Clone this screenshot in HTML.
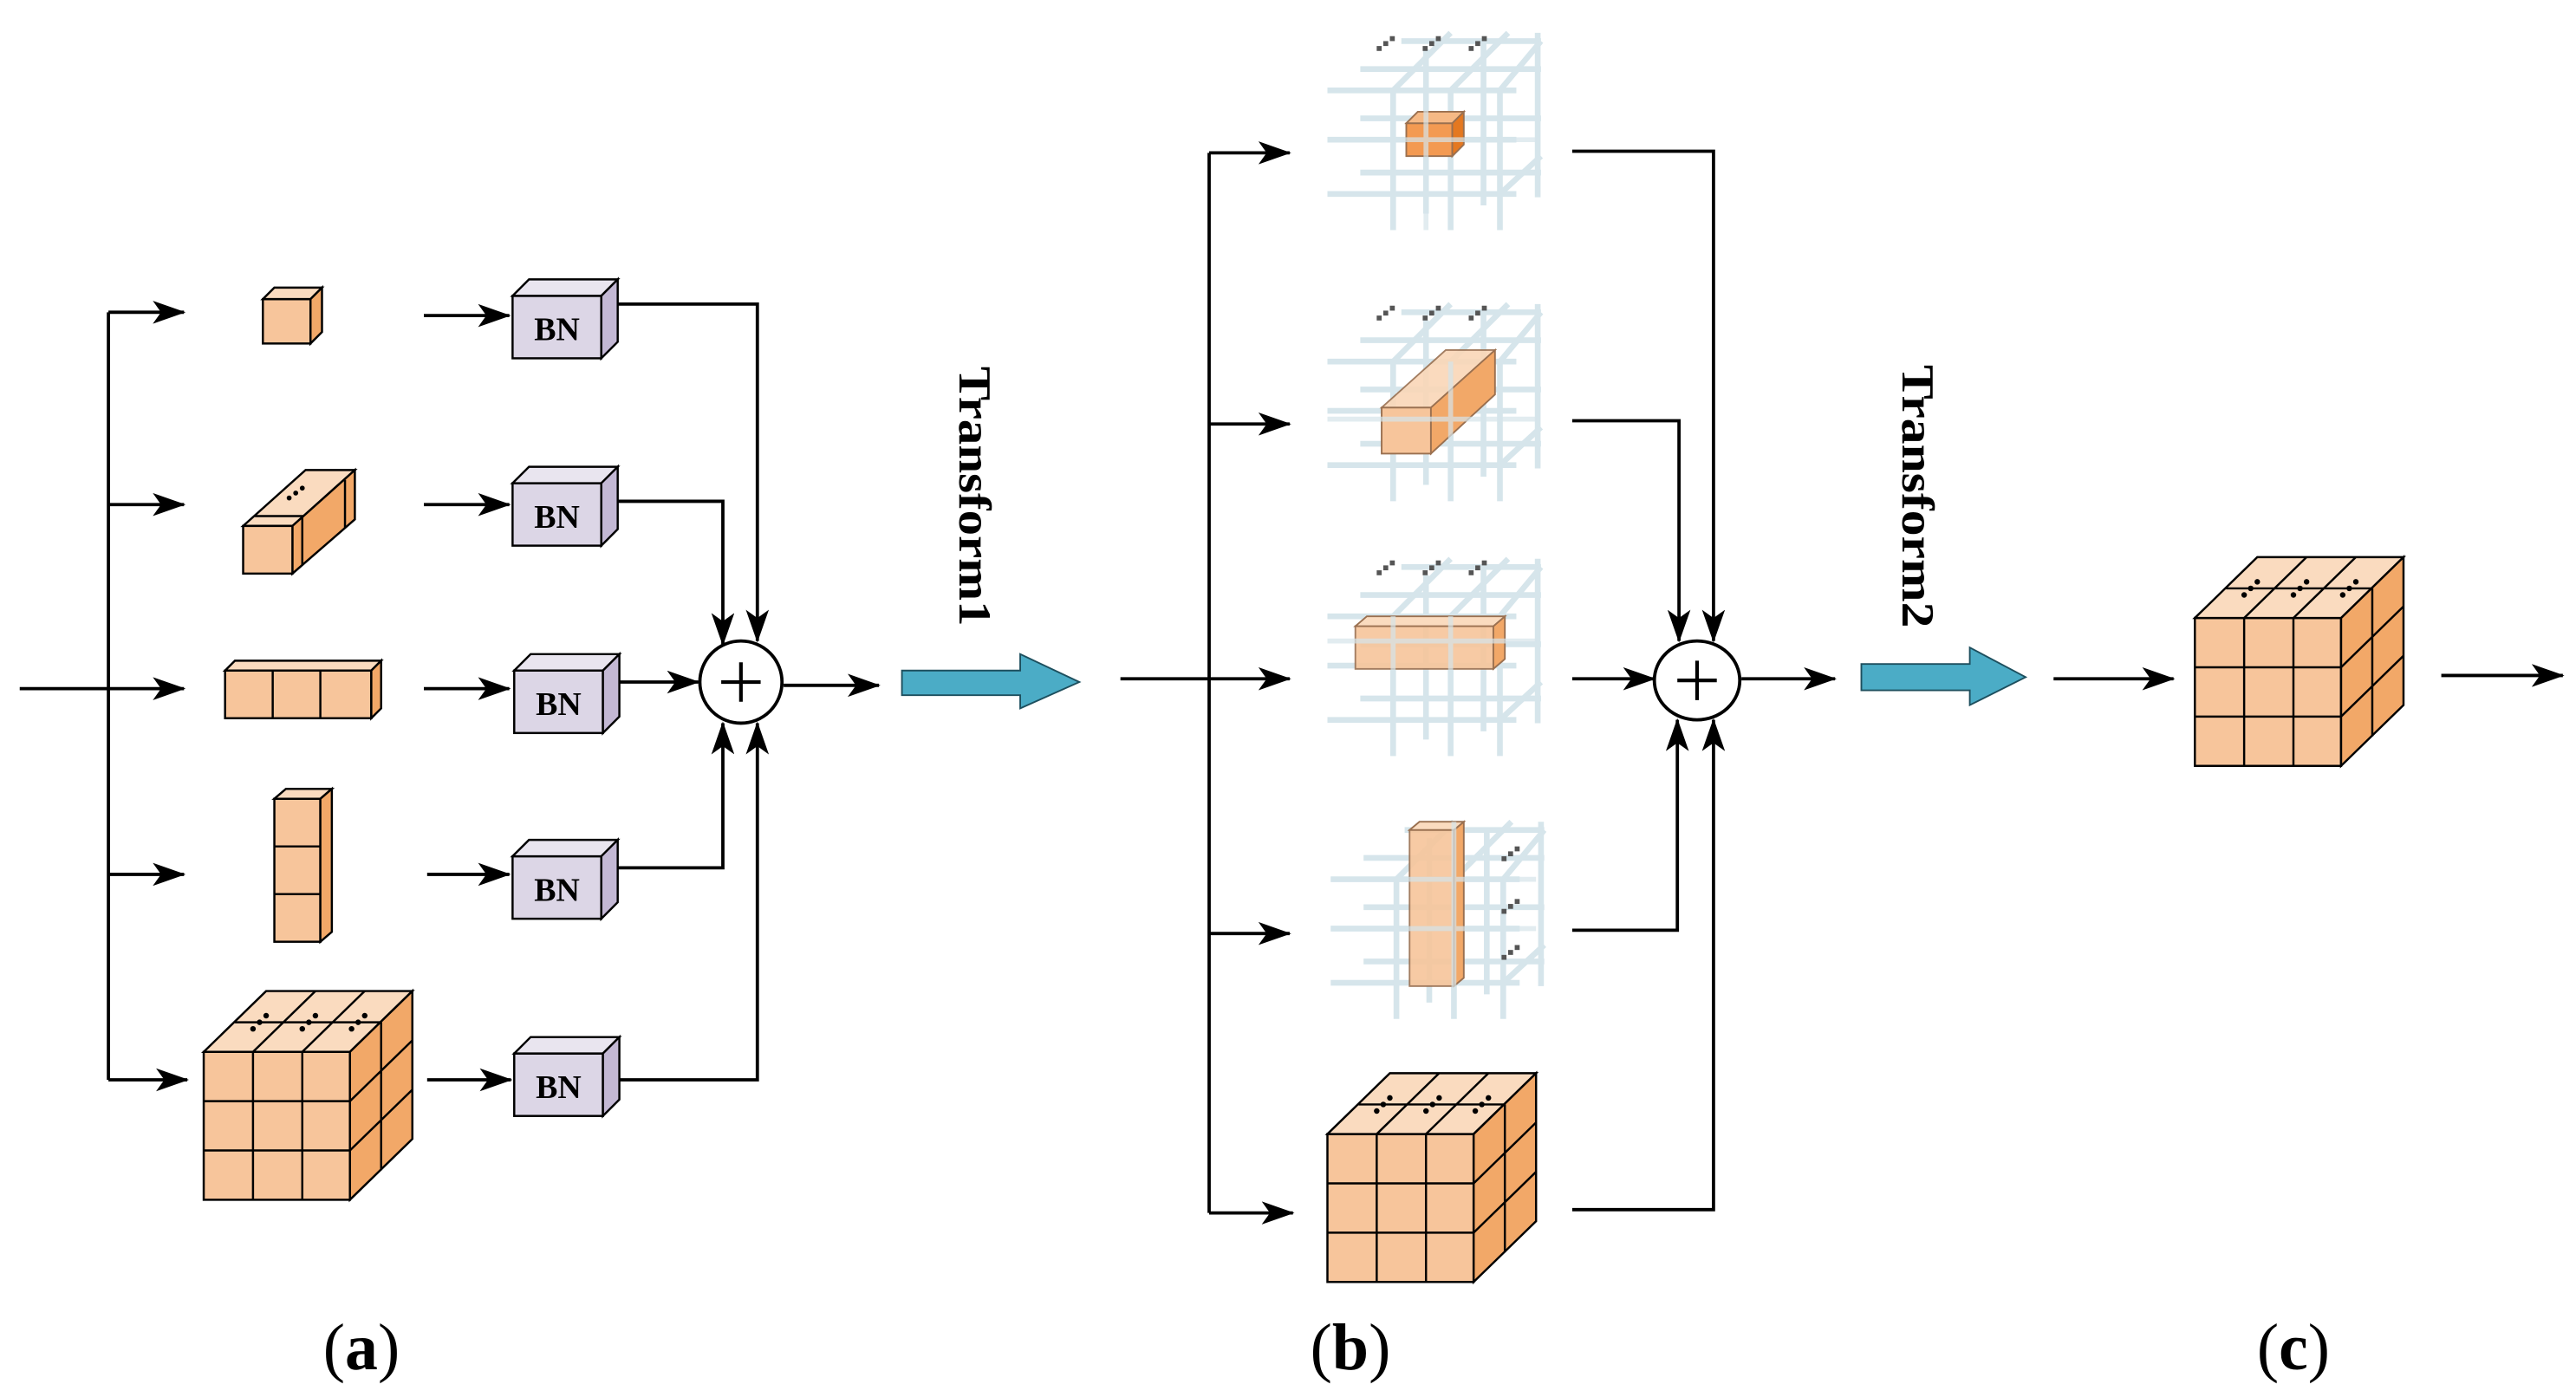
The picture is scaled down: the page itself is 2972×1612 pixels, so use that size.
<!DOCTYPE html>
<html><head><meta charset="utf-8"><style>html,body{margin:0;padding:0;background:#fff}svg{display:block}</style></head>
<body>
<svg width="2972" height="1612" viewBox="0 0 1568 850" preserveAspectRatio="none" xmlns="http://www.w3.org/2000/svg">
<defs>
<marker id="ah" viewBox="0 0 20 14" refX="19" refY="7" markerWidth="20" markerHeight="14" markerUnits="userSpaceOnUse" orient="auto">
<path d="M0,0 L20,7 L0,14 L5,7 Z" fill="#000"/></marker>
<g id="big" stroke="#000" stroke-width="1.3">
<rect x="0" y="0" width="89" height="90" fill="#f7c59b"/>
<line x1="30" y1="0" x2="30" y2="90"/><line x1="60" y1="0" x2="60" y2="90"/>
<line x1="0" y1="30" x2="89" y2="30"/><line x1="0" y1="60" x2="89" y2="60"/>
<polygon points="0,0 89,0 127,-37 38,-37" fill="#fadbbf"/>
<line x1="30" y1="0" x2="68" y2="-37"/><line x1="60" y1="0" x2="98" y2="-37"/><line x1="19" y1="-18" x2="108" y2="-18"/>
<polygon points="89,0 127,-37 127,53 89,90" fill="#f2a868"/>
<line x1="89" y1="30" x2="127" y2="-7"/><line x1="89" y1="60" x2="127" y2="23"/><line x1="108" y1="-18" x2="108" y2="72"/>
<g fill="#000" stroke="none"><circle cx="30" cy="-14" r="1.7"/><circle cx="34" cy="-18" r="1.7"/><circle cx="38" cy="-22" r="1.7"/>
<circle cx="60" cy="-14" r="1.7"/><circle cx="64" cy="-18" r="1.7"/><circle cx="68" cy="-22" r="1.7"/>
<circle cx="90" cy="-14" r="1.7"/><circle cx="94" cy="-18" r="1.7"/><circle cx="98" cy="-22" r="1.7"/></g>
</g>
<g id="bn" stroke="#000" stroke-width="1.3">
<rect x="0" y="0" width="54" height="38" fill="#dcd6e6"/>
<polygon points="0,0 54,0 64,-10 10,-10" fill="#e9e5ef"/>
<polygon points="54,0 64,-10 64,28 54,38" fill="#c3b8d4"/>
<text x="27" y="27" font-family="Liberation Serif, serif" font-weight="bold" font-size="20" text-anchor="middle" stroke="none" fill="#000">BN</text>
</g>
<g id="grid" stroke="#d6e5eb" stroke-width="3.5" fill="none">
<line x1="0" y1="45" x2="115" y2="45"/><line x1="0" y1="75" x2="115" y2="75"/><line x1="0" y1="108" x2="115" y2="108"/>
<line x1="20" y1="32" x2="130" y2="32"/><line x1="20" y1="62" x2="130" y2="62"/><line x1="20" y1="95" x2="130" y2="95"/>
<line x1="45" y1="15" x2="130" y2="15"/>
<line x1="40" y1="45" x2="40" y2="130"/><line x1="75" y1="45" x2="75" y2="130"/><line x1="105" y1="45" x2="105" y2="130"/>
<line x1="60" y1="20" x2="60" y2="120"/><line x1="95" y1="15" x2="95" y2="115"/><line x1="128" y1="10" x2="128" y2="110"/>
<line x1="40" y1="45" x2="75" y2="10"/><line x1="75" y1="45" x2="110" y2="10"/><line x1="105" y1="45" x2="130" y2="15"/>
<line x1="105" y1="108" x2="130" y2="85"/>
</g>
<g id="dots3" fill="#555"><rect x="0" y="6" width="3" height="3"/><rect x="4" y="3" width="3" height="3"/><rect x="8" y="0" width="3" height="3"/></g>
</defs>

<g stroke="#000" stroke-width="2" fill="none">
<line x1="12" y1="419" x2="112" y2="419" marker-end="url(#ah)"/>
<polyline points="66,190 66,657"/>
<line x1="66" y1="190" x2="112" y2="190" marker-end="url(#ah)"/>
<line x1="66" y1="307" x2="112" y2="307" marker-end="url(#ah)"/>
<line x1="66" y1="532" x2="112" y2="532" marker-end="url(#ah)"/>
<line x1="66" y1="657" x2="114" y2="657" marker-end="url(#ah)"/>
<line x1="258" y1="192" x2="310" y2="192" marker-end="url(#ah)"/>
<line x1="258" y1="307" x2="310" y2="307" marker-end="url(#ah)"/>
<line x1="258" y1="419" x2="310" y2="419" marker-end="url(#ah)"/>
<line x1="260" y1="532" x2="310" y2="532" marker-end="url(#ah)"/>
<line x1="260" y1="657" x2="311" y2="657" marker-end="url(#ah)"/>
<polyline points="375,185 461,185 461,390" marker-end="url(#ah)"/>
<polyline points="375,305 440,305 440,392" marker-end="url(#ah)"/>
<line x1="375" y1="415" x2="425" y2="415" marker-end="url(#ah)"/>
<polyline points="375,528 440,528 440,440" marker-end="url(#ah)"/>
<polyline points="375,657 461,657 461,440" marker-end="url(#ah)"/>
<line x1="477" y1="417" x2="535" y2="417" marker-end="url(#ah)"/>
<line x1="682" y1="413" x2="785" y2="413" marker-end="url(#ah)"/>
<polyline points="736,93 736,738"/>
<line x1="736" y1="93" x2="785" y2="93" marker-end="url(#ah)"/>
<line x1="736" y1="258" x2="785" y2="258" marker-end="url(#ah)"/>
<line x1="736" y1="568" x2="785" y2="568" marker-end="url(#ah)"/>
<line x1="736" y1="738" x2="787" y2="738" marker-end="url(#ah)"/>
<polyline points="957,92 1043,92 1043,390" marker-end="url(#ah)"/>
<polyline points="957,256 1022,256 1022,390" marker-end="url(#ah)"/>
<line x1="957" y1="413" x2="1007" y2="413" marker-end="url(#ah)"/>
<polyline points="957,566 1021,566 1021,438" marker-end="url(#ah)"/>
<polyline points="957,736 1043,736 1043,438" marker-end="url(#ah)"/>
<line x1="1060" y1="413" x2="1117" y2="413" marker-end="url(#ah)"/>
<line x1="1250" y1="413" x2="1323" y2="413" marker-end="url(#ah)"/>
<line x1="1486" y1="411" x2="1560" y2="411" marker-end="url(#ah)"/>
</g>

<g stroke="#000" stroke-width="2" fill="#fff">
<ellipse cx="451" cy="415" rx="25" ry="25"/>
<ellipse cx="1033" cy="414" rx="26" ry="24"/>
</g>
<g stroke="#000" stroke-width="2.2">
<line x1="439" y1="415" x2="463" y2="415"/><line x1="451" y1="403" x2="451" y2="427"/>
<line x1="1021" y1="414" x2="1045" y2="414"/><line x1="1033" y1="402" x2="1033" y2="426"/>
</g>

<polygon points="549,408 621,408 621,398 657,415 621,431 621,423 549,423" fill="#4bacc6" stroke="#1d4f5e" stroke-width="1"/>
<polygon points="1133,404 1199,404 1199,394 1233,412 1199,429 1199,420 1133,420" fill="#4bacc6" stroke="#1d4f5e" stroke-width="1"/>
<text transform="translate(584,223) rotate(90)" font-family="Liberation Serif, serif" font-weight="bold" font-size="28" textLength="158" lengthAdjust="spacingAndGlyphs">Transform1</text>
<text transform="translate(1158,222) rotate(90)" font-family="Liberation Serif, serif" font-weight="bold" font-size="28" textLength="160" lengthAdjust="spacingAndGlyphs">Transform2</text>

<g stroke="#000" stroke-width="1.3">
<rect x="160" y="182" width="29" height="27" fill="#f7c59b"/>
<polygon points="160,182 189,182 196,175 167,175" fill="#fadbbf"/>
<polygon points="189,182 196,175 196,202 189,209" fill="#f2a868"/>
<polygon points="148,320 178,320 216,286 186,286" fill="#fadbbf"/>
<polygon points="178,320 216,286 216,316 178,349" fill="#f2a868"/>
<rect x="148" y="320" width="30" height="29" fill="#f7c59b"/>
<line x1="184" y1="315" x2="184" y2="344"/><line x1="210" y1="292" x2="210" y2="321"/>
<line x1="155" y1="314" x2="185" y2="314"/>
<rect x="137" y="408" width="89" height="29" fill="#f7c59b"/>
<line x1="166" y1="408" x2="166" y2="437"/><line x1="195" y1="408" x2="195" y2="437"/>
<polygon points="137,408 226,408 232,402 143,402" fill="#fadbbf"/>
<polygon points="226,408 232,402 232,431 226,437" fill="#f2a868"/>
<rect x="167" y="486" width="28" height="87" fill="#f7c59b"/>
<line x1="167" y1="515" x2="195" y2="515"/><line x1="167" y1="544" x2="195" y2="544"/>
<polygon points="167,486 195,486 202,480 174,480" fill="#fadbbf"/>
<polygon points="195,486 202,480 202,567 195,573" fill="#f2a868"/>
</g>
<g fill="#000"><circle cx="176" cy="303" r="1.5"/><circle cx="180" cy="300" r="1.5"/><circle cx="184" cy="297" r="1.5"/></g>
<use href="#big" x="124" y="640"/>
<use href="#bn" x="312" y="180"/>
<use href="#bn" x="312" y="294"/>
<use href="#bn" x="313" y="408"/>
<use href="#bn" x="312" y="521"/>
<use href="#bn" x="313" y="641"/>

<use href="#grid" x="808" y="10"/>
<use href="#grid" x="808" y="175"/>
<use href="#grid" x="808" y="330"/>
<use href="#grid" x="810" y="490"/>
<use href="#dots3" x="838" y="22"/><use href="#dots3" x="866" y="22"/><use href="#dots3" x="894" y="22"/>
<use href="#dots3" x="838" y="186"/><use href="#dots3" x="866" y="186"/><use href="#dots3" x="894" y="186"/>
<use href="#dots3" x="838" y="341"/><use href="#dots3" x="866" y="341"/><use href="#dots3" x="894" y="341"/>
<use href="#dots3" x="914" y="515"/><use href="#dots3" x="914" y="547"/><use href="#dots3" x="914" y="575"/>
<g stroke="#9a7050" stroke-width="1">
<rect x="856" y="75" width="28" height="20" fill="#f39a52"/>
<polygon points="856,75 884,75 891,68 863,68" fill="#f6b985"/>
<polygon points="884,75 891,68 891,88 884,95" fill="#e47820"/>
<polygon points="841,248 871,248 910,213 880,213" fill="#fad7b8" opacity="0.9"/>
<rect x="841" y="248" width="30" height="28" fill="#f7c59b"/>
<polygon points="871,248 910,213 910,240 871,276" fill="#f2a868"/>
<rect x="825" y="381" width="84" height="26" fill="#f7c59b" opacity="0.9"/>
<polygon points="909,381 916,375 916,401 909,407" fill="#f2a868"/>
<polygon points="825,381 909,381 916,375 832,375" fill="#fadbbf"/>
<rect x="858" y="505" width="27" height="95" fill="#f7c59b" opacity="0.9"/>
<polygon points="885,505 891,500 891,595 885,600" fill="#f2a868"/>
<polygon points="858,505 885,505 891,500 864,500" fill="#fadbbf"/>
</g>
<g stroke="#d6e5eb" stroke-width="3" opacity="0.7">
<line x1="808" y1="390" x2="935" y2="390"/><line x1="848" y1="375" x2="848" y2="460"/><line x1="883" y1="375" x2="883" y2="460"/>
<line x1="810" y1="535" x2="935" y2="535"/><line x1="810" y1="565" x2="935" y2="565"/><line x1="885" y1="500" x2="885" y2="610"/>
<line x1="808" y1="255" x2="935" y2="255"/><line x1="883" y1="220" x2="883" y2="300"/>
<line x1="808" y1="85" x2="935" y2="85"/><line x1="868" y1="55" x2="868" y2="140"/>
</g>
<use href="#big" x="808" y="690"/>
<use href="#big" x="1336" y="376"/>

<g font-family="Liberation Serif, serif" font-size="40" text-anchor="middle" fill="#000">
<text x="220" y="833">(<tspan font-weight="bold">a</tspan>)</text>
<text x="822" y="833">(<tspan font-weight="bold">b</tspan>)</text>
<text x="1396" y="833">(<tspan font-weight="bold">c</tspan>)</text>
</g>
</svg>
</body></html>
